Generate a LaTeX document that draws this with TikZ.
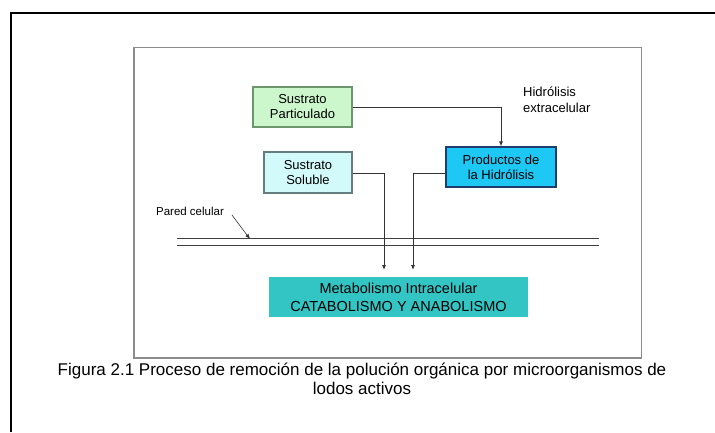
\documentclass[tikz,border=0pt]{standalone}
\usepackage{fontspec}
\setmainfont{Liberation Sans}
\usetikzlibrary{arrows.meta}

\definecolor{verdeclaro}{RGB}{204,247,204}
\definecolor{verdeborde}{RGB}{110,150,110}
\definecolor{cianclaro}{RGB}{210,250,250}
\definecolor{cianborde}{RGB}{100,125,125}
\definecolor{azulprod}{RGB}{30,200,245}
\definecolor{azulborde}{RGB}{30,60,110}
\definecolor{turquesa}{RGB}{51,196,196}

\begin{document}
\begin{tikzpicture}[x=1pt, y=-1pt,
    caja/.style={draw, line width=1.2pt, align=center, inner sep=0pt,
                 font=\fontsize{13}{15}\selectfont},
    flecha/.style={draw=black!80, line width=0.8pt, -{Latex[length=5pt,width=4pt]}},
    pared/.style={draw=black!75, line width=0.9pt}]
    \useasboundingbox (0,0) rectangle (715,432);

    % marco de la hoja y recuadro de la figura
    \draw[line width=2pt] (11,432) -- (11,12.5) -- (715,12.5);
    \draw[black!45, line width=1.6pt] (134,47.5) rectangle (641.5,358);

    % cajas
    \node[caja, draw=verdeborde, fill=verdeclaro, minimum width=99, minimum height=40]
        (part) at (302.5,107) {Sustrato\\Particulado};
    \node[caja, draw=cianborde, fill=cianclaro, minimum width=88, minimum height=41]
        (sol) at (308,172.5) {Sustrato\\Soluble};
    \node[caja, draw=azulborde, fill=azulprod, minimum width=110, minimum height=40]
        (prod) at (501,167) {Productos de\\la Hidrólisis};
    \node[caja, draw=none, fill=turquesa, minimum width=259, minimum height=40,
          font=\fontsize{14.5}{18}\selectfont]
        (meta) at (398.5,297) {Metabolismo Intracelular\\CATABOLISMO Y ANABOLISMO};

    \node[align=left, anchor=west, inner sep=0pt, font=\fontsize{13}{16}\selectfont]
        (hidro) at (523,100) {Hidrólisis\\extracelular};

    % pared celular
    \draw[pared] (177,238) -- (599,238);
    \draw[pared] (177,245) -- (599,245);
    \node[inner sep=0pt, font=\fontsize{11.5}{13}\selectfont] (paredtxt) at (190,211) {Pared celular};
    \coordinate (pw) at (250,239);
    \draw[flecha, line width=0.6pt] (232,215) -- (pw);

    % entradas al metabolismo
    \coordinate (in1) at (384,270);
    \coordinate (in2) at (413,270);
    \draw[flecha] (part.east) -| (prod.north);
    \draw[flecha] ([yshift=-0.5]sol.east) -| (in1);
    \draw[flecha] ([yshift=-6]prod.west) -| (in2);

    % pie de figura
    \node[align=center, inner sep=0pt, font=\fontsize{17}{19}\selectfont]
        (pie) at (362,379) {Figura 2.1 Proceso de remoción de la polución orgánica por microorganismos de\\lodos activos};
\end{tikzpicture}
\end{document}
